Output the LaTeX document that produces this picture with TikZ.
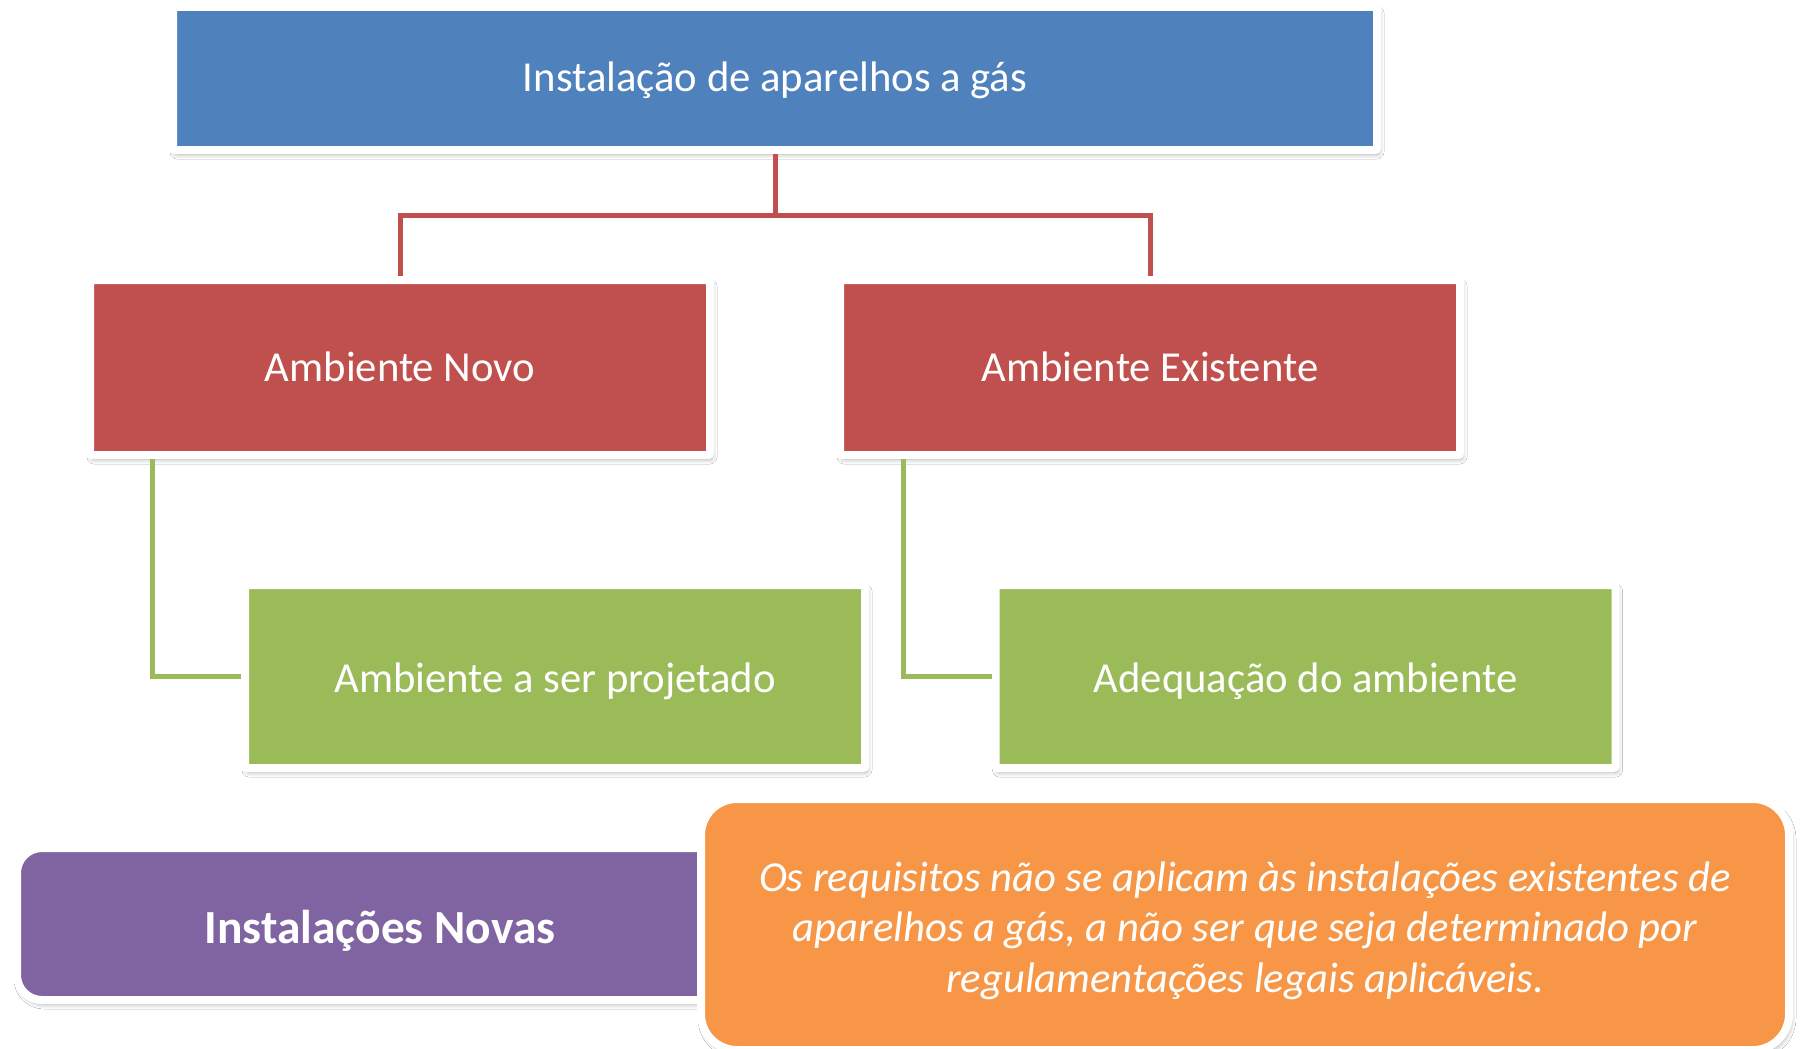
\documentclass[tikz,border=0pt]{standalone}
\usepackage{fontspec}
\setmainfont{Carlito}
\usetikzlibrary{shadows.blur}
\definecolor{cblue}{HTML}{4F81BD}
\definecolor{cred}{HTML}{C0504D}
\definecolor{cgreen}{HTML}{9BBB59}
\definecolor{cpurple}{HTML}{8064A2}
\definecolor{corange}{HTML}{F79646}
\tikzset{
  boxbase/.style={draw=white, line width=8pt, rounded corners=2pt, inner sep=0pt,
    text=white, align=center, font=\fontsize{42.7}{50}\selectfont,
    text height=30pt, text depth=0pt,
    blur shadow={shadow xshift=2pt, shadow yshift=-4pt, shadow blur radius=5pt, shadow blur steps=6, shadow opacity=35}},
  bluebox/.style={boxbase, fill=cblue, minimum width=1204pt, minimum height=143pt, text height=25.5pt},
  redbox/.style={boxbase, fill=cred, minimum width=620pt, minimum height=175pt, text height=27.7pt},
  greenbox/.style={boxbase, fill=cgreen, minimum width=620pt, minimum height=183pt, text height=32.3pt},
  purplebox/.style={boxbase, fill=cpurple, rounded corners=25pt, minimum width=726pt, minimum height=152pt,
    font=\fontsize{47.5}{55}\selectfont\bfseries, text height=38.6pt},
  orangebox/.style={boxbase, fill=corange, rounded corners=36pt, minimum width=1088pt, minimum height=251pt,
    font=\fontsize{42.7}{50.6}\selectfont\itshape, text height=135.6pt},
  redline/.style={draw=cred, line width=5pt},
  greenline/.style={draw=cgreen, line width=5pt}
}
\begin{document}
\begin{tikzpicture}[x=1pt,y=-1pt]
\useasboundingbox[fill=white] (0,0) rectangle (1802,1049);
\node[bluebox] (top) at (775,78.5) {Instalação de aparelhos a gás};
\node[redbox] (an) at (400,367.5) {Ambiente Novo};
\node[redbox] (ae) at (1150,367.5) {Ambiente Existente};
\node[greenbox] (gn) at (555,676.5) {Ambiente a ser projetado};
\node[greenbox] (ge) at (1305.5,676.5) {Adequação do ambiente};
\coordinate (j) at (775,215);
\draw[redline] (top.south) -- (j) -| (an.north);
\draw[redline] (j) -| (ae.north);
\draw[greenline] ([xshift=66pt]an.south west) |- (gn.west);
\draw[greenline] ([xshift=67pt]ae.south west) |- (ge.west);
\node[purplebox] (pn) at (380,924) {Instalações Novas};
\node[orangebox] (ob) at (1245,924.5) {Os requisitos não se aplicam às instalações existentes de\\aparelhos a gás, a não ser que seja determinado por\\regulamentações legais aplicáveis.};
\end{tikzpicture}
\end{document}
